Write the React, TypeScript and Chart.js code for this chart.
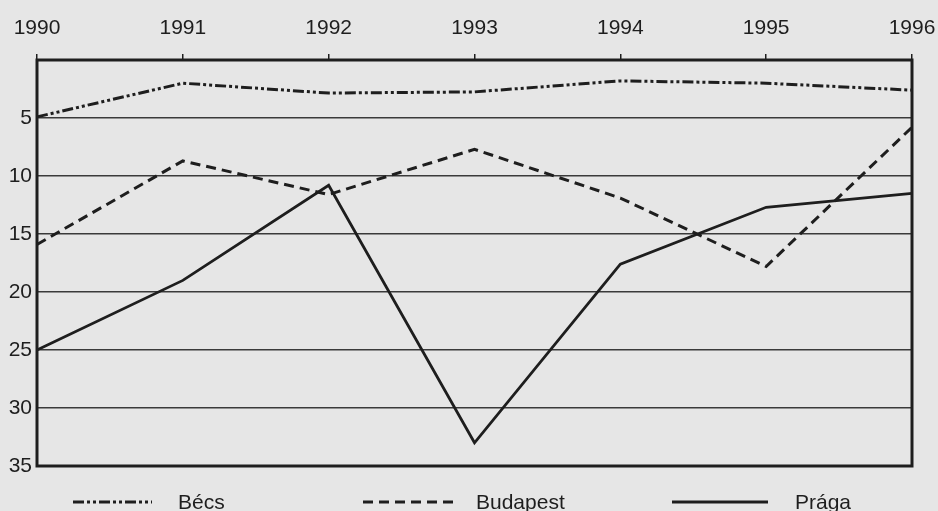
import React, { useEffect, useRef } from 'react';
import { Chart, registerables } from 'chart.js';

Chart.register(...registerables);

// ---- data ----
const years = ['1990', '1991', '1992', '1993', '1994', '1995', '1996'];
const becs = [4.9, 2.0, 2.85, 2.75, 1.8, 2.0, 2.6];
const budapest = [15.9, 8.7, 11.6, 7.7, 11.9, 17.8, 5.8];
const praga = [25.0, 19.0, 10.8, 33.0, 17.6, 12.7, 11.5];
const seriesNames = ['Bécs', 'Budapest', 'Prága'];
const yMin = 0;
const yMax = 35;
const yStep = 5;

// ---- styles / layout ----
const FONT = '"Liberation Sans", Arial, sans-serif';
const FONT_SIZE = 21;
const INK = '#1e1e1e';
const GRID = '#3a3a3a';
const BG = '#e6e6e6';
const W = 938;
const H = 511;
const legendLayout = [
  { x0: 73, x1: 152, tx: 178 },
  { x0: 363, x1: 455, tx: 476 },
  { x0: 672, x1: 768, tx: 795 },
];
const legendLineY = 502;
const legendTextBaseline = 509;

const framePlugin = {
  id: 'frameAndLegend',
  beforeDraw(chart: any) {
    const ctx = chart.ctx;
    ctx.save();
    ctx.fillStyle = BG;
    ctx.fillRect(0, 0, chart.width, chart.height);
    ctx.restore();
  },
  afterDraw(chart: any) {
    const { ctx, chartArea: a } = chart;
    ctx.save();
    ctx.lineWidth = 3;
    ctx.strokeStyle = INK;
    ctx.setLineDash([]);
    ctx.strokeRect(a.left, a.top, a.right - a.left, a.bottom - a.top);

    ctx.font = `${FONT_SIZE}px ${FONT}`;
    ctx.fillStyle = INK;
    ctx.textBaseline = 'alphabetic';
    ctx.textAlign = 'left';
    chart.data.datasets.forEach((ds: any, i: number) => {
      const L = legendLayout[i];
      ctx.save();
      ctx.strokeStyle = ds.borderColor;
      ctx.lineWidth = ds.borderWidth;
      ctx.setLineDash(ds.borderDash || []);
      ctx.beginPath();
      ctx.moveTo(L.x0, legendLineY);
      ctx.lineTo(L.x1, legendLineY);
      ctx.stroke();
      ctx.restore();
      ctx.fillText(ds.label, L.tx, legendTextBaseline);
    });
    ctx.restore();
  },
};

export default function App() {
  const ref = useRef<HTMLCanvasElement | null>(null);

  useEffect(() => {
    document.body.style.margin = '0';
    document.body.style.background = BG;
    if (!ref.current) return;
    const chart = new Chart(ref.current, {
      type: 'line',
      data: {
        labels: years,
        datasets: [
          {
            label: seriesNames[0],
            data: becs,
            borderColor: INK,
            borderWidth: 3,
            borderDash: [11, 3, 3, 3, 3, 3],
            pointRadius: 0,
            tension: 0,
            fill: false,
          },
          {
            label: seriesNames[1],
            data: budapest,
            borderColor: INK,
            borderWidth: 3,
            borderDash: [10, 6],
            pointRadius: 0,
            tension: 0,
            fill: false,
          },
          {
            label: seriesNames[2],
            data: praga,
            borderColor: INK,
            borderWidth: 2.8,
            borderDash: [],
            pointRadius: 0,
            tension: 0,
            fill: false,
          },
        ],
      },
      options: {
        responsive: false,
        animation: false,
        devicePixelRatio: 1,
        layout: { padding: { left: 0, right: 26, top: 0, bottom: 45 } },
        plugins: {
          legend: { display: false },
          tooltip: { enabled: false },
        },
        scales: {
          x: {
            type: 'category',
            position: 'top',
            offset: false,
            grid: {
              display: true,
              drawOnChartArea: false,
              drawTicks: true,
              tickLength: 6,
              color: INK,
              lineWidth: 1.5,
            },
            border: { display: false },
            ticks: {
              color: INK,
              font: { family: FONT, size: FONT_SIZE },
              padding: 13,
              maxRotation: 0,
              autoSkip: false,
            },
            afterFit: (s: any) => {
              s.height = 60;
              s.paddingLeft = 0;
              s.paddingRight = 0;
            },
          },
          y: {
            reverse: true,
            min: yMin,
            max: yMax,
            grid: {
              color: GRID,
              lineWidth: 1.5,
              drawTicks: false,
            },
            border: { display: false },
            ticks: {
              stepSize: yStep,
              color: INK,
              font: { family: FONT, size: FONT_SIZE },
              padding: 5,
              callback: (v: any) => (v === 0 ? '' : String(v)),
            },
            afterFit: (s: any) => {
              s.width = 37;
              s.paddingTop = 0;
              s.paddingBottom = 0;
            },
          },
        },
      },
      plugins: [framePlugin],
    });
    return () => chart.destroy();
  }, []);

  return (
    <div style={{ width: W, height: H }}>
      <canvas ref={ref} width={W} height={H} style={{ display: 'block' }} />
    </div>
  );
}
